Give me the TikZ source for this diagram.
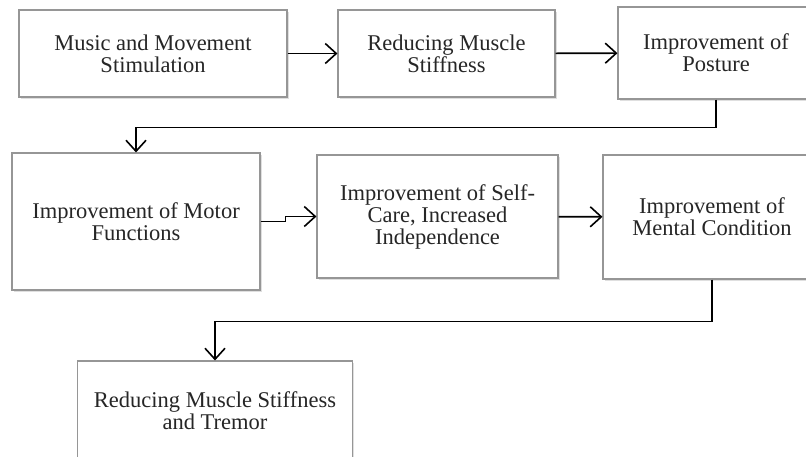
\documentclass[tikz,border=0pt]{standalone}
\usepackage{fontspec}
\setmainfont{Liberation Serif}
\usepackage{tikz}
\usetikzlibrary{arrows.meta,positioning,calc,shadows}
\definecolor{boxline}{RGB}{150,150,150}

\begin{document}
\begin{tikzpicture}[
    x=1pt, y=-1pt,
    box/.style={rectangle, draw=boxline, line width=1.1pt, fill=white, align=center,
        font=\fontsize{22.5}{22}\selectfont, text=black!85, inner sep=0pt,
        drop shadow={opacity=0.25, shadow xshift=1.5pt, shadow yshift=-1.5pt}},
    arr/.style={draw, line width=1.6pt, -{Straight Barb[length=11pt, width=20pt, line width=1.6pt]}}
]
    \useasboundingbox[fill=white] (0,0) rectangle (806,456);
    \clip (0,0) rectangle (806,456);

    \node[box, minimum width=268pt, minimum height=87pt] (music) at (153,53.5) {Music and Movement\\Stimulation};
    \node[box, minimum width=217pt, minimum height=87pt] (stiff) at (446.5,53.5) {Reducing Muscle\\Stiffness};
    \node[box, minimum width=196pt, minimum height=92pt] (posture) at (716,53) {Improvement of\\Posture};

    \node[box, minimum width=248pt, minimum height=137pt] (motor) at (136,221.5) {Improvement of Motor\\Functions};
    \node[box, minimum width=241pt, minimum height=123pt] (selfcare) at (437.5,216.5) {Improvement of Self-\\Care, Increased\\Independence};
    \node[box, minimum width=218pt, minimum height=124pt] (mental) at (712,217) {Improvement of\\Mental Condition};

    \node[box, minimum width=275pt, minimum height=100pt] (tremor) at (215,411) {Reducing Muscle Stiffness\\and Tremor};

    \draw[arr] (music) -- (stiff);
    \draw[arr] (stiff) -- (posture);
    \draw[arr] (posture.south) -- ++(0,28) -| (motor.north);
    \draw[arr] (motor.east) -- ++(25,0) |- (selfcare.west);
    \draw[arr] (selfcare) -- (mental);
    \draw[arr] (mental.south) -- ++(0,42) -| (tremor.north);
\end{tikzpicture}
\end{document}
